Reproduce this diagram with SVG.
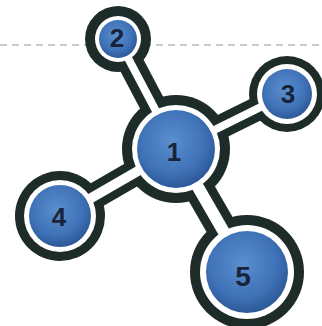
<svg xmlns="http://www.w3.org/2000/svg" width="322" height="326" viewBox="0 0 322 326">
<defs>
<radialGradient id="blue" cx="45%" cy="40%" r="60%">
<stop offset="0" stop-color="#5b8fd0"/>
<stop offset="0.7" stop-color="#3f71b6"/>
<stop offset="1" stop-color="#2c5998"/>
</radialGradient>
<style>
.dark{fill:#1d2b29}
.white{fill:#ffffff}
.core{fill:url(#blue)}
.cd{stroke:#1d2b29;stroke-linecap:butt;fill:none}
.cw{stroke:#ffffff;stroke-linecap:butt;fill:none}
.lbl{font-family:"Liberation Sans",Arial,sans-serif;font-weight:bold;font-size:26px;fill:#17243a;text-anchor:middle}
</style>
</defs>
<rect width="322" height="326" fill="#ffffff"/>
<line x1="0" y1="45" x2="322" y2="45" stroke="#8a99a6" stroke-width="1.2" stroke-dasharray="7 5"/>
<g id="connectors">
<line class="cd" x1="176" y1="149" x2="118" y2="39" stroke-width="26"/>
<line class="cd" x1="176" y1="149" x2="287" y2="94" stroke-width="24"/>
<line class="cd" x1="176" y1="149" x2="60" y2="216" stroke-width="26"/>
<line class="cd" x1="176" y1="149" x2="247" y2="272" stroke-width="30"/>
</g>
<g id="rings">
<circle class="dark" cx="118" cy="39" r="33"/>
<circle class="dark" cx="287" cy="94" r="38"/>
<circle class="dark" cx="60" cy="216" r="45"/>
<circle class="dark" cx="247" cy="272" r="57"/>
<circle class="dark" cx="176" cy="149" r="54"/>
</g>
<g id="connector-stripes">
<line class="cw" x1="176" y1="149" x2="118" y2="39" stroke-width="8"/>
<line class="cw" x1="176" y1="149" x2="287" y2="94" stroke-width="8"/>
<line class="cw" x1="176" y1="149" x2="60" y2="216" stroke-width="10"/>
<line class="cw" x1="176" y1="149" x2="247" y2="272" stroke-width="12"/>
</g>
<g id="node2">
<circle class="white" cx="118" cy="39" r="23"/>
<circle class="core" cx="118" cy="39" r="19"/>
<text class="lbl" x="117" y="47">2</text>
</g>
<g id="node3">
<circle class="white" cx="287" cy="94" r="30"/>
<circle class="core" cx="287" cy="94" r="25"/>
<text class="lbl" x="288" y="103">3</text>
</g>
<g id="node4">
<circle class="white" cx="60" cy="216" r="36"/>
<circle class="core" cx="60" cy="216" r="31"/>
<text class="lbl" x="59" y="226">4</text>
</g>
<g id="node5">
<circle class="white" cx="247" cy="272" r="47"/>
<circle class="core" cx="247" cy="272" r="41"/>
<text class="lbl" x="243" y="286" style="font-size:28px">5</text>
</g>
<g id="node1">
<circle class="white" cx="176" cy="149" r="44"/>
<circle class="core" cx="176" cy="149" r="39"/>
<text class="lbl" x="174" y="161">1</text>
</g>
</svg>
